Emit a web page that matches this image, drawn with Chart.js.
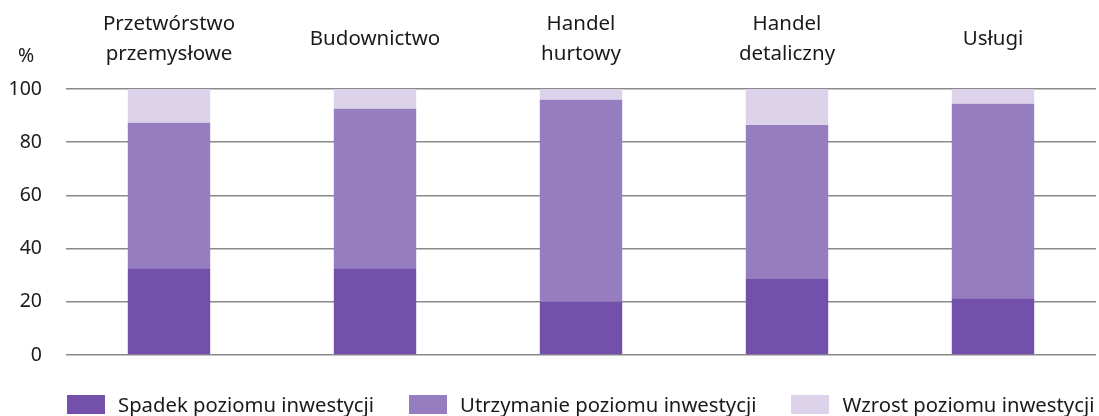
<!DOCTYPE html>
<html>
<head>
<meta charset="utf-8">
<script src="https://cdn.jsdelivr.net/npm/chart.js@4/dist/chart.umd.min.js"></script>
<style>
  html, body { margin: 0; padding: 0; background: #fff; }
  #wrap { width: 1099px; height: 416px; position: relative; }
  #legend {
    position: absolute; left: 67px; top: 392px;
    display: flex; gap: 35px;
    font: 20.3px "Noto Sans", "Open Sans", sans-serif; color: #1a1a1a;
    white-space: nowrap; line-height: 24px;
  }
  #legend .item { display: flex; align-items: center; }
  #legend .box { width: 38px; height: 19px; margin-right: 13px; }
</style>
</head>
<body>
<div id="wrap">
  <canvas id="chart"></canvas>
  <div id="legend"></div>
</div>
<script>
const CATEGORIES = [
  ['Przetwórstwo', 'przemysłowe'],
  'Budownictwo',
  ['Handel', 'hurtowy'],
  ['Handel', 'detaliczny'],
  'Usługi'
];
const SPADEK      = [32.6, 32.6, 20.0, 28.6, 21.3];
const UTRZYMANIE  = [54.7, 60.0, 76.0, 57.9, 73.2];
const WZROST      = [12.7, 7.4, 4.0, 13.5, 5.5];
const Y_TICKS     = [0, 20, 40, 60, 80, 100];

const FONT = '"Noto Sans", "Open Sans", sans-serif';
const TEXT = '#1a1a1a';

// "%" unit label above the y axis
const unitLabel = {
  id: 'unitLabel',
  afterDraw(chart) {
    const ctx = chart.ctx;
    ctx.save();
    ctx.font = '19.5px ' + FONT;
    ctx.fillStyle = TEXT;
    ctx.textAlign = 'center';
    ctx.textBaseline = 'middle';
    ctx.fillText('%', 26, 56);
    ctx.restore();
  }
};

const ds = (label, data, color) => ({
  label, data,
  backgroundColor: color,
  borderWidth: 0,
  barPercentage: 0.4,
  categoryPercentage: 1.0
});

const chart = new Chart(document.getElementById('chart'), {
  type: 'bar',
  data: {
    labels: CATEGORIES,
    datasets: [
      ds('Spadek poziomu inwestycji', SPADEK, '#7350ab'),
      ds('Utrzymanie poziomu inwestycji', UTRZYMANIE, '#967dbf'),
      ds('Wzrost poziomu inwestycji', WZROST, '#dcd3ea')
    ]
  },
  options: {
    responsive: true,
    maintainAspectRatio: false,
    animation: false,
    layout: { padding: { left: 0, right: 3, top: 0, bottom: 61 } },
    plugins: {
      legend: { display: false },
      tooltip: { enabled: false }
    },
    scales: {
      x: {
        stacked: true,
        position: 'top',
        grid: { display: false },
        border: { display: false },
        afterFit: (axis) => { axis.height = 89; },
        ticks: {
          font: { family: FONT, size: 20.5, lineHeight: 1.46 },
          color: TEXT,
          padding: 27,
          crossAlign: 'center',
          maxRotation: 0
        }
      },
      y: {
        stacked: true,
        min: 0,
        max: 100,
        afterBuildTicks: (axis) => { axis.ticks = Y_TICKS.map(v => ({ value: v })); },
        afterFit: (axis) => { axis.width = 66; },
        grid: { color: '#8a8a8a', lineWidth: 1.5, drawTicks: false },
        border: { display: false },
        ticks: {
          font: { family: FONT, size: 19.5 },
          color: TEXT,
          padding: 24
        }
      }
    }
  },
  plugins: [unitLabel]
});

// legend built from the datasets
const legendEl = document.getElementById('legend');
chart.data.datasets.forEach(d => {
  const item = document.createElement('div');
  item.className = 'item';
  const box = document.createElement('span');
  box.className = 'box';
  box.style.background = d.backgroundColor;
  const txt = document.createElement('span');
  txt.textContent = d.label;
  item.appendChild(box);
  item.appendChild(txt);
  legendEl.appendChild(item);
});
</script>
</body>
</html>
